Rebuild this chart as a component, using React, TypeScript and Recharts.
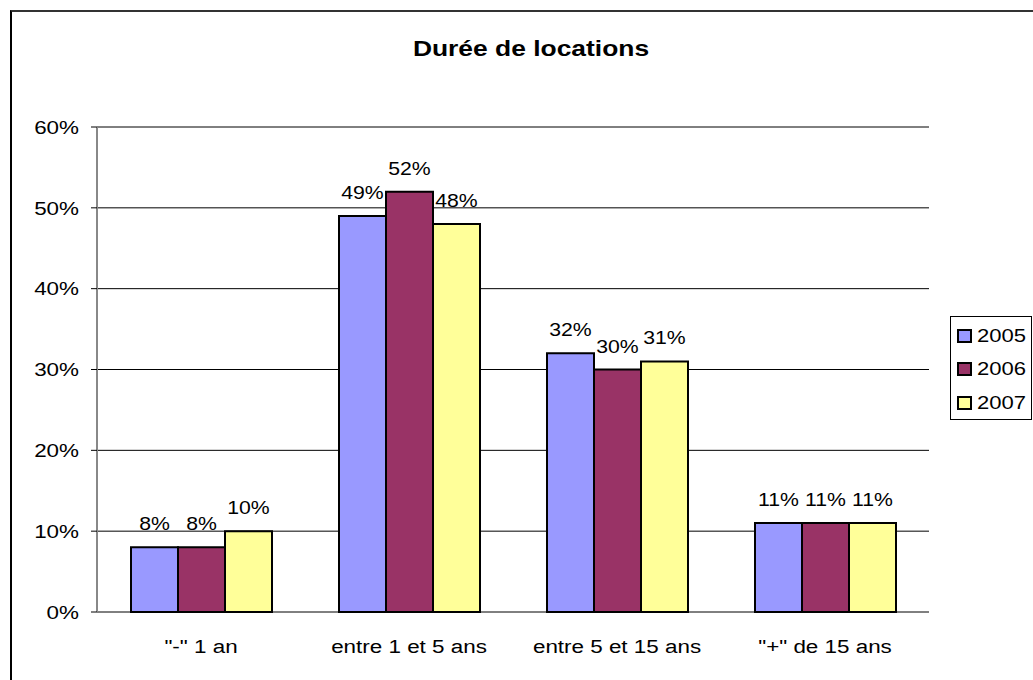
import React from "react";
import {
  BarChart,
  Bar,
  XAxis,
  YAxis,
  CartesianGrid,
  LabelList,
} from "recharts";

const categories = ['"-" 1 an', "entre 1 et 5 ans", "entre 5 et 15 ans", '"+" de 15 ans'];
const years = ["2005", "2006", "2007"];
const values2005 = [8, 49, 32, 11];
const values2006 = [8, 52, 30, 11];
const values2007 = [10, 48, 31, 11];
const yTicks = [0, 10, 20, 30, 40, 50, 60];
const edgeTicks = [0, 1, 2, 3, 4];

const colors = ["#9999FF", "#993366", "#FFFF99"];
const FONT = "'Liberation Sans', Arial, sans-serif";
// the reference text is a bit wider than plain Arial
const SX = 1.18;

const data = categories.map((cat, i) => ({
  cat,
  "2005": values2005[i],
  "2006": values2006[i],
  "2007": values2007[i],
}));

function WideText({ x, y, anchor, dy, size, children }: any) {
  return (
    <text
      transform={`translate(${x},${y}) scale(${SX},1)`}
      textAnchor={anchor}
      dy={dy}
      fontSize={size}
      fontFamily={FONT}
      fill="#000"
    >
      {children}
    </text>
  );
}

const YTick = ({ x, y, payload }: any) => (
  <WideText x={x} y={y} anchor="end" dy="0.355em" size={19}>
    {`${payload.value}%`}
  </WideText>
);

const XTick = ({ x, y, payload }: any) => (
  <WideText x={x} y={y} anchor="middle" dy="0.71em" size={19}>
    {payload.value}
  </WideText>
);

const BarLabel = ({ x, y, width, value }: any) => (
  <WideText x={x + width / 2} y={y - 17} anchor="middle" dy={0} size={18}>
    {`${value}%`}
  </WideText>
);

export default function App() {
  return (
    <div
      style={{
        position: "fixed",
        left: 0,
        top: 0,
        width: 1033,
        height: 680,
        overflow: "hidden",
        background: "#fff",
        fontFamily: FONT,
      }}
    >
      {/* outer chart frame (cropped on the right and bottom) */}
      <div
        style={{
          position: "absolute",
          left: 10,
          top: 10,
          width: 1100,
          height: 800,
          borderTop: "2px solid #333",
          borderLeft: "2px solid #000",
        }}
      />
      <div
        style={{
          position: "absolute",
          left: 331,
          width: 400,
          top: 36,
          textAlign: "center",
          fontSize: 22,
          fontWeight: "bold",
          color: "#000",
          transform: "scaleX(1.2)",
          transformOrigin: "center",
        }}
      >
        Durée de locations
      </div>

      <div style={{ position: "absolute", left: 0, top: 0 }}>
        <BarChart
          width={1033}
          height={680}
          data={data}
          margin={{ top: 127, right: 104, bottom: 28, left: 0 }}
          barCategoryGap={34}
          barGap={0}
        >
          <CartesianGrid horizontal vertical={false} stroke="#000" strokeWidth={1} />
          <XAxis
            xAxisId="edges"
            type="number"
            domain={[0, 4]}
            ticks={edgeTicks}
            allowDataOverflow
            height={0}
            tick={false}
            tickSize={7}
            tickLine={{ stroke: "#444", strokeWidth: 1 }}
            axisLine={{ stroke: "#666", strokeWidth: 2 }}
          />
          <XAxis
            dataKey="cat"
            height={40}
            tickSize={0}
            tickMargin={27}
            tickLine={false}
            axisLine={false}
            tick={<XTick />}
            interval={0}
          />
          <XAxis
            xAxisId="top"
            orientation="top"
            height={0}
            tick={false}
            tickLine={false}
            axisLine={{ stroke: "#888", strokeWidth: 2 }}
          />
          <YAxis
            domain={[0, 60]}
            ticks={yTicks}
            width={97}
            tickSize={6}
            tickMargin={12}
            tick={<YTick />}
            tickLine={{ stroke: "#000" }}
            axisLine={{ stroke: "#888", strokeWidth: 2 }}
          />
          <YAxis
            yAxisId="right"
            orientation="right"
            width={0}
            tick={false}
            tickLine={false}
            axisLine={{ stroke: "#888", strokeWidth: 2 }}
          />
          {years.map((y, i) => (
            <Bar
              key={y}
              dataKey={y}
              fill={colors[i]}
              stroke="#000"
              strokeWidth={2}
              isAnimationActive={false}
            >
              <LabelList dataKey={y} content={<BarLabel />} />
            </Bar>
          ))}
        </BarChart>
      </div>

      {/* legend */}
      <div
        style={{
          position: "absolute",
          left: 950,
          top: 316,
          width: 82,
          height: 104,
          border: "1px solid #000",
          boxSizing: "border-box",
          paddingTop: 2,
        }}
      >
        {years.map((y, i) => (
          <div
            key={y}
            style={{
              display: "flex",
              alignItems: "center",
              height: 33.5,
              fontSize: 19,
              color: "#000",
              whiteSpace: "nowrap",
            }}
          >
            <span
              style={{
                display: "inline-block",
                width: 11,
                height: 10,
                marginLeft: 6,
                marginRight: 5,
                background: colors[i],
                border: "2px solid #000",
              }}
            />
            <span
              style={{
                display: "inline-block",
                transform: "scaleX(1.16)",
                transformOrigin: "left center",
              }}
            >
              {y}
            </span>
          </div>
        ))}
      </div>
    </div>
  );
}
